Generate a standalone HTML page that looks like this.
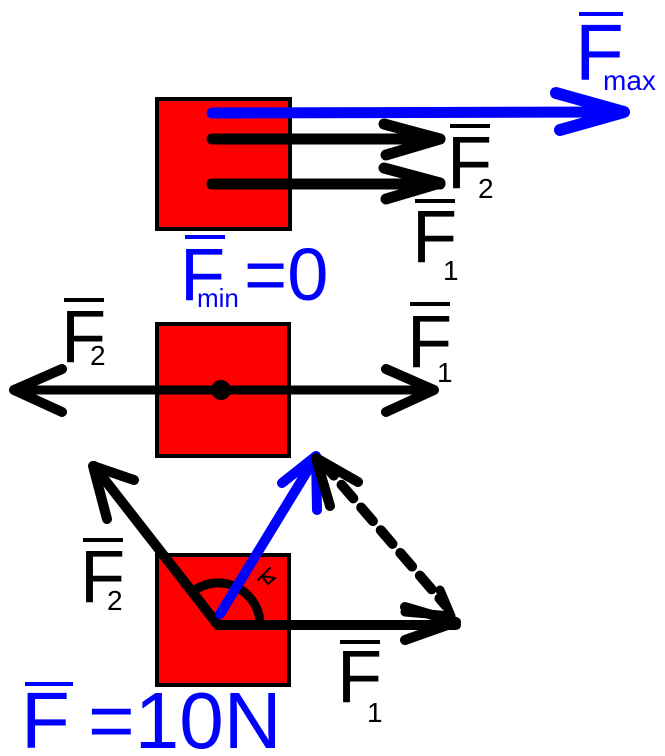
<!DOCTYPE html>
<html><head><style>html,body{margin:0;padding:0;background:#fff}svg{display:block}</style></head>
<body>
<svg width="665" height="756" viewBox="0 0 665 756" xmlns="http://www.w3.org/2000/svg" font-family="Liberation Sans, sans-serif">
<rect x="157" y="99" width="133" height="130" fill="#f00" stroke="#000" stroke-width="4"/>
<rect x="157" y="324" width="132" height="132" fill="#f00" stroke="#000" stroke-width="4"/>
<rect x="157" y="555" width="132" height="130" fill="#f00" stroke="#000" stroke-width="4"/>

<g fill="none" stroke-linecap="round" stroke-linejoin="round">
<line x1="212" y1="113" x2="622" y2="112" stroke="#00f" stroke-width="11"/>
<polyline points="556,93 624,112 560,130" stroke="#00f" stroke-width="12"/>
<line x1="212" y1="139" x2="440" y2="139" stroke="#000" stroke-width="11"/>
<polyline points="384,124 440,139 386,155" stroke="#000" stroke-width="11"/>
<line x1="212" y1="184" x2="440" y2="184" stroke="#000" stroke-width="11"/>
<polyline points="384,168 440,183 386,199" stroke="#000" stroke-width="11"/>
<line x1="14" y1="390" x2="434" y2="390" stroke="#000" stroke-width="9"/>
<polyline points="62,369 14,390 62,412" stroke="#000" stroke-width="10"/>
<polyline points="386,369 434,390 386,412" stroke="#000" stroke-width="10"/>
<circle cx="221" cy="390" r="10" fill="#000" stroke="none"/>
<path d="M192,592 A42,42 0 0 1 260,622" stroke="#000" stroke-width="9"/>
<polyline points="94,466 218,625 456,625" stroke="#000" stroke-width="10"/>
<polyline points="107,519 93,466 134,480" stroke="#000" stroke-width="10"/>
<polyline points="405,607 456,622 405,640" stroke="#000" stroke-width="10"/>
<line x1="220" y1="614" x2="314" y2="460" stroke="#00f" stroke-width="10"/>
<polyline points="282,483 316,456 317,510" stroke="#00f" stroke-width="10"/>
<line x1="322" y1="462" x2="446" y2="606" stroke="#000" stroke-width="10" stroke-dasharray="18,12"/>
<polyline points="330,506 316,458 358,482" stroke="#000" stroke-width="10"/>
<polyline points="405,612 451,616 440,590" stroke="#000" stroke-width="9"/>
<path d="M258,580 L270,568 M262,576 L275,578 L268,584 Z" stroke="#000" stroke-width="2"/>
</g>

<g font-size="80">
<text x="575" y="80" fill="#00f">F</text><rect x="579" y="12" width="44" height="4" fill="#00f"/>
<text x="603" y="90" fill="#00f" font-size="28">max</text>
<text x="447" y="188" fill="#000" font-size="74">F</text><rect x="450" y="124" width="40" height="4" fill="#000"/>
<text x="478" y="198" fill="#000" font-size="28">2</text>
<text x="412" y="262" fill="#000" font-size="74">F</text><rect x="415" y="199" width="40" height="4" fill="#000"/>
<text x="443" y="280" fill="#000" font-size="28">1</text>
<text x="180" y="300" fill="#00f" font-size="74">F</text><rect x="185" y="235" width="40" height="4" fill="#00f"/>
<text x="197" y="307" fill="#00f" font-size="26">min</text>
<text x="244" y="300" fill="#00f" font-size="74">=0</text>
<text x="61" y="362" fill="#000" font-size="74">F</text><rect x="64" y="298" width="40" height="4" fill="#000"/>
<text x="90" y="365" fill="#000" font-size="28">2</text>
<text x="407" y="367" fill="#000" font-size="74">F</text><rect x="410" y="302" width="40" height="4" fill="#000"/>
<text x="437" y="382" fill="#000" font-size="28">1</text>
<text x="80" y="602" fill="#000" font-size="74">F</text><rect x="83" y="538" width="40" height="4" fill="#000"/>
<text x="107" y="610" fill="#000" font-size="28">2</text>
<text x="337" y="702" fill="#000" font-size="74">F</text><rect x="340" y="640" width="40" height="4" fill="#000"/>
<text x="367" y="722" fill="#000" font-size="28">1</text>
<text x="21" y="748" fill="#00f" font-size="80">F</text><rect x="25" y="682" width="48" height="4" fill="#00f"/>
<text x="88" y="748" fill="#00f" font-size="80">=10N</text>
</g>
</svg>
</body></html>
